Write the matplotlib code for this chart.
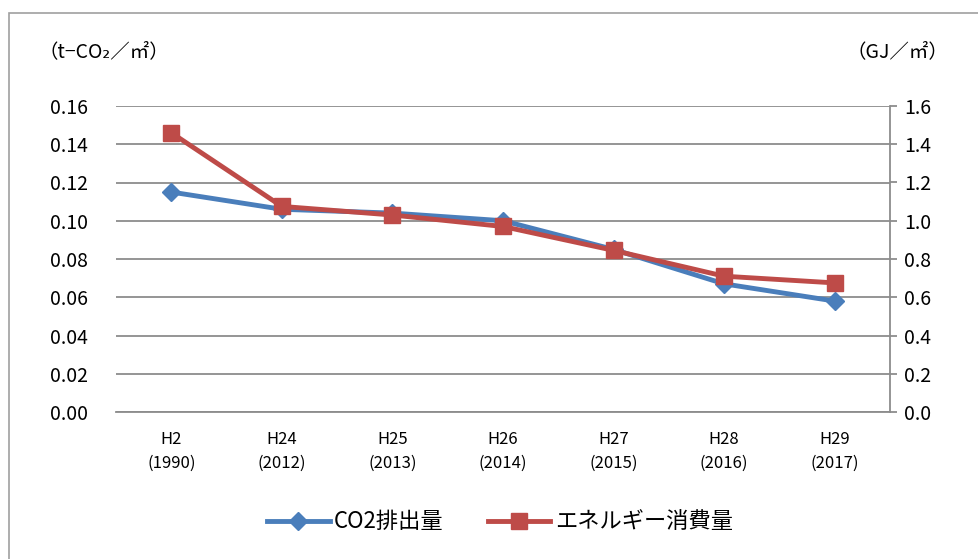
import matplotlib.pyplot as plt
from matplotlib.patches import Rectangle
from matplotlib.lines import Line2D

plt.rcParams['font.family'] = ['Noto Sans CJK JP', 'DejaVu Sans']

# data
labels = ['H2\n(1990)', 'H24\n(2012)', 'H25\n(2013)', 'H26\n(2014)',
          'H27\n(2015)', 'H28\n(2016)', 'H29\n(2017)']
co2 = [0.115, 0.106, 0.104, 0.100, 0.085, 0.067, 0.058]
energy = [1.46, 1.075, 1.03, 0.97, 0.845, 0.71, 0.675]

blue = '#4A7EBB'
red = '#BE4B48'
grid_c = '#8C8C8C'

fig = plt.figure(figsize=(9.79, 5.59), dpi=100)
fig.patches.append(Rectangle((9 / 979, -0.1), 1.2, 1 - 13 / 559 + 0.1,
                             transform=fig.transFigure, fill=False,
                             edgecolor='#A0A0A0', lw=1.2))

ax1 = fig.add_axes([116 / 979, 1 - 412 / 559, (890 - 116) / 979, (412 - 106) / 559])
ax2 = ax1.twinx()
x = list(range(len(labels)))

ax1.plot(x, co2, color=blue, lw=3.5, marker='D', ms=9.5, label='CO2排出量', zorder=3)
ax2.plot(x, energy, color=red, lw=3.5, marker='s', ms=11.5, label='エネルギー消費量', zorder=3)

ax1.set_xlim(-0.5, 6.5)
ax1.set_ylim(0, 0.16)
ax2.set_ylim(0, 1.6)
ax1.set_yticks([i * 0.02 for i in range(9)])
ax2.set_yticks([i * 0.2 for i in range(9)])
ax1.set_yticklabels([f'{i * 0.02:.2f}' for i in range(9)])
ax2.set_yticklabels([f'{i * 0.2:.1f}' for i in range(9)])
ax1.set_xticks(x)
ax1.set_xticklabels(labels, fontsize=12, linespacing=1.5)

ax1.grid(axis='y', color=grid_c, lw=1.3)
ax1.set_axisbelow(True)
for a in (ax1, ax2):
    for s in ('top', 'left'):
        a.spines[s].set_visible(False)
ax1.spines['right'].set_visible(False)
ax2.spines['bottom'].set_visible(False)
ax1.spines['bottom'].set_color(grid_c)
ax1.spines['bottom'].set_linewidth(1.3)
ax2.spines['right'].set_color(grid_c)
ax2.spines['right'].set_linewidth(1.3)

ax1.tick_params(axis='y', length=0, labelsize=14, pad=20)
ax1.tick_params(axis='x', length=0, pad=14)
ax2.tick_params(axis='y', length=5, color=grid_c, width=1.3, labelsize=14, pad=5)

fig.text(38 / 979, 1 - 52 / 559, '（t−CO₂／㎡）', fontsize=14, va='center', ha='left')
fig.text(948 / 979, 1 - 52 / 559, '（GJ／㎡）', fontsize=14, va='center', ha='right')

handles = [Line2D([], [], color=blue, lw=3.5, marker='D', ms=9.5),
           Line2D([], [], color=red, lw=3.5, marker='s', ms=11.5)]
fig.legend(handles, ['CO2排出量', 'エネルギー消費量'], loc='center',
           bbox_to_anchor=(500 / 979, 1 - 522 / 559), ncol=2, frameon=False,
           fontsize=16, handlelength=2.8, columnspacing=2.0, handletextpad=0.2)

fig.savefig('out.png', dpi=100)
